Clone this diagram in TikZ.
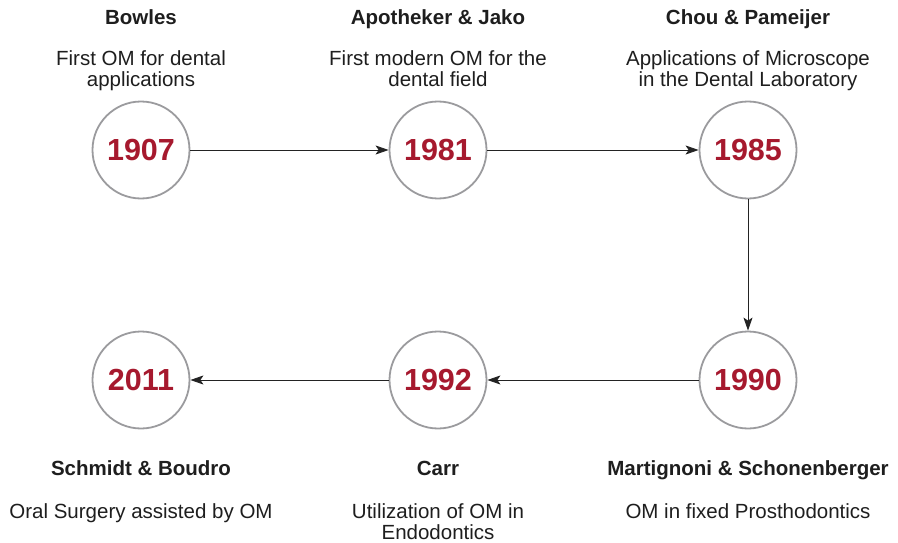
\documentclass[tikz,border=0pt]{standalone}
\usepackage{fontspec}
\setmainfont{Liberation Sans}
\usetikzlibrary{arrows.meta}
\definecolor{yearred}{RGB}{166,25,46}
\definecolor{ringgray}{RGB}{155,155,158}
\definecolor{linkgray}{RGB}{35,35,35}
\definecolor{textgray}{RGB}{30,30,30}

\begin{document}
\begin{tikzpicture}[x=1pt, y=-1pt, font=\fontsize{20.5}{21}\selectfont, text=textgray,
    year/.style={draw=ringgray, line width=1.8pt, circle, minimum size=97pt, inner sep=0pt,
        text=yearred, font=\fontsize{30.5}{30}\selectfont\bfseries},
    who/.style={anchor=base, font=\fontsize{20.5}{21}\selectfont\bfseries},
    what/.style={anchor=base, align=center},
    link/.style={draw=linkgray, line width=0.9pt, -{Stealth[length=13pt,width=9pt,inset=3pt]}}]

    \useasboundingbox (0,0) rectangle (898,543); % Keep the page the size of the picture

    % Circles with the years, top row and bottom row
    \foreach \x/\y/\yr in {141/150/1907, 438/150/1981, 748/150/1985,
                            141/380/2011, 438/380/1992, 748/380/1990} {
        \node[year] (y\yr) at (\x,\y) {\yr};
    }

    % Names and notes above the top row (base = last line of the note)
    \node[who] (n1907) at (141,25) {Bowles};
    \node[what] (d1907) at (141,87) {First OM for dental\\applications};
    \node[who] (n1981) at (438,25) {Apotheker \& Jako};
    \node[what] (d1981) at (438,87) {First modern OM for the\\dental field};
    \node[who] (n1985) at (748,25) {Chou \& Pameijer};
    \node[what] (d1985) at (748,87) {Applications of Microscope\\in the Dental Laboratory};

    % Names and notes below the bottom row
    \node[who] (n2011) at (141,475) {Schmidt \& Boudro};
    \node[what] (d2011) at (141,518) {Oral Surgery assisted by OM};
    \node[who] (n1992) at (438,475) {Carr};
    \node[what] (d1992) at (438,539) {Utilization of OM in\\Endodontics};
    \node[who] (n1990) at (748,475) {Martignoni \& Schonenberger};
    \node[what] (d1990) at (748,518) {OM in fixed Prosthodontics};

    % Arrows from year to year
    \draw[link] (y1907) -- (y1981);
    \draw[link] (y1981) -- (y1985);
    \draw[link] (y1985) -- (y1990);
    \draw[link] (y1990) -- (y1992);
    \draw[link] (y1992) -- (y2011);
\end{tikzpicture}
\end{document}
